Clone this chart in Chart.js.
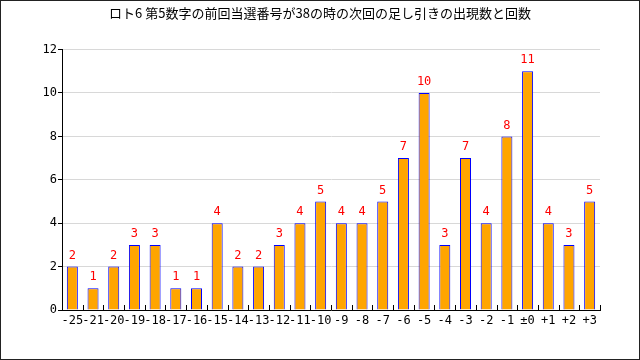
<!DOCTYPE html>
<html>
<head>
<meta charset="utf-8">
<script src="https://cdn.jsdelivr.net/npm/chart.js@4"></script>
<style>
  body { margin: 0; background: #fff; }
</style>
</head>
<body>
<canvas id="mycanvas" width="640" height="360"></canvas>
<script>
var titleText = "ロト6 第5数字の前回当選番号が38の時の次回の足し引きの出現数と回数";
var diffLabels = ["-25", "-21", "-20", "-19", "-18", "-17", "-16", "-15", "-14", "-13", "-12", "-11", "-10", "-9", "-8", "-7", "-6", "-5", "-4", "-3", "-2", "-1", "±0", "+1", "+2", "+3"];
var counts = [2, 1, 2, 3, 3, 1, 1, 4, 2, 2, 3, 4, 5, 4, 4, 5, 7, 10, 3, 7, 4, 8, 11, 4, 3, 5];
var yTicks = [0, 2, 4, 6, 8, 10, 12];

var monoFont = "'DejaVu Sans Mono', monospace";

// value labels over bars, small up-ticks on x axis, frame round the picture
var extras = {
	id: "extras",
	afterDatasetsDraw: function(chart) {
		var ctx = chart.ctx;
		var meta = chart.getDatasetMeta(0);
		ctx.save();
		ctx.fillStyle = "#ff0000";
		ctx.font = "12px " + monoFont;
		ctx.textAlign = "center";
		ctx.textBaseline = "bottom";
		meta.data.forEach(function(bar, i) {
			ctx.fillText(String(counts[i]), bar.x, bar.y - 5);
		});
		ctx.restore();
	},
	afterDraw: function(chart) {
		var ctx = chart.ctx;
		var area = chart.chartArea;
		var step = (area.right - area.left) / diffLabels.length;
		ctx.save();
		ctx.strokeStyle = "#000";
		ctx.lineWidth = 1;
		ctx.beginPath();
		for (var i = 1; i <= diffLabels.length; i++) {
			var x = Math.round(area.left + step * i) + 0.5;
			ctx.moveTo(x, area.bottom);
			ctx.lineTo(x, area.bottom - 5);
		}
		ctx.stroke();
		ctx.strokeStyle = "#222";
		ctx.strokeRect(0.5, 0.5, chart.width - 1, chart.height - 1);
		ctx.restore();
	}
};

var ctx = document.getElementById("mycanvas");
var chart = new Chart(ctx, {
	type: "bar",
	data: {
		labels: diffLabels,
		datasets: [{
			label: "回数",
			data: counts,
			backgroundColor: "#ffa500",
			borderColor: "#0000ff",
			borderWidth: 1,
			barThickness: 11,
			inflateAmount: 0
		}]
	},
	options: {
		responsive: false,
		animation: false,
		layout: { padding: 0 },
		plugins: {
			legend: { display: false },
			tooltip: { enabled: false },
			title: {
				display: true,
				text: titleText,
				color: "#000",
				font: { family: "'Noto Sans CJK JP', sans-serif", size: 13, weight: "normal" },
				padding: { top: 5, bottom: 29 }
			}
		},
		scales: {
			x: {
				grid: { display: false, drawTicks: false },
				border: { display: true, color: "#000", width: 1 },
				ticks: {
					color: "#000",
					font: { family: monoFont, size: 12 },
					padding: 4,
					autoSkip: false,
					maxRotation: 0
				},
				afterFit: function(scale) { scale.height = 50; }
			},
			y: {
				min: 0,
				max: 12,
				afterBuildTicks: function(scale) {
					scale.ticks = yTicks.map(function(v) { return { value: v }; });
				},
				grid: {
					color: "#d8d8d8",
					tickColor: "#000",
					tickLength: 4,
					drawTicks: true
				},
				border: { display: true, color: "#000", width: 1 },
				ticks: {
					color: "#000",
					font: { family: monoFont, size: 12 },
					padding: 1
				},
				afterFit: function(scale) { scale.width = 62; }
			},
			// empty right-hand spacer so the title stays centred on the page
			yRight: {
				position: "right",
				display: true,
				min: 0,
				max: 12,
				grid: { display: false, drawTicks: false },
				border: { display: false },
				ticks: { display: false },
				afterFit: function(scale) { scale.width = 40; }
			}
		}
	},
	plugins: [extras]
});
</script>
</body>
</html>
